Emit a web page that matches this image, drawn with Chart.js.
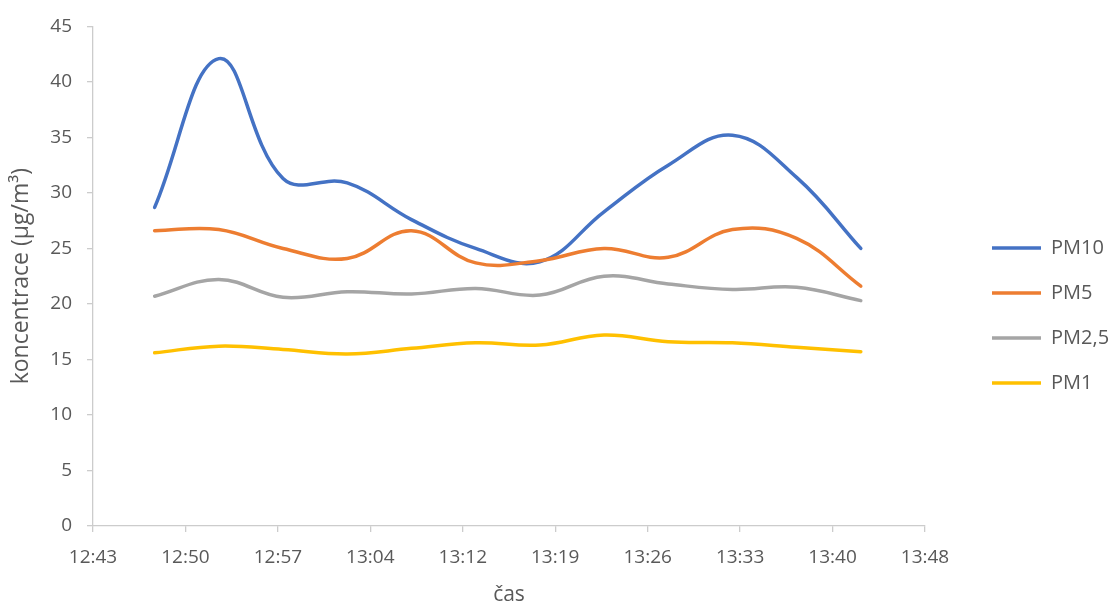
<!DOCTYPE html>
<html>
<head>
<meta charset="utf-8">
<script src="https://cdn.jsdelivr.net/npm/chart.js@4"></script>
<style>
  html, body { margin: 0; padding: 0; background: #fff; }
  #wrap { width: 1116px; height: 608px; }
</style>
</head>
<body>
<div id="wrap"><canvas id="chart"></canvas></div>
<script>
// measurement times (hh:mm)
const times = ['12:48', '12:53', '12:58', '13:03', '13:08', '13:13', '13:18', '13:23', '13:28', '13:33', '13:38', '13:43']

const pm10 = [28.7, 42.1, 31.3, 30.9, 27.6, 25.0, 23.8, 28.3, 32.5, 35.2, 31.4, 25.0]
const pm5 = [26.6, 26.7, 25.0, 24.1, 26.6, 23.7, 23.9, 25.0, 24.2, 26.7, 25.9, 21.6]
const pm25 = [20.7, 22.2, 20.6, 21.1, 20.9, 21.4, 20.8, 22.5, 21.8, 21.3, 21.5, 20.3]
const pm1 = [15.6, 16.2, 15.9, 15.5, 16.0, 16.5, 16.3, 17.2, 16.6, 16.5, 16.1, 15.7]

// x axis labels as excel shows them (major unit 7.2 min from 12:43.2)
const xTickLabels = ['12:43', '12:50', '12:57', '13:04', '13:12', '13:19', '13:26', '13:33', '13:40', '13:48']
const xMin = 12 * 60 + 43.2
const xStep = 7.2

const yTickMax = 45
const yTickStep = 5

const textCol = '#595959'
const axisCol = '#cccccc'
const font = 'Open Sans'

const toMin = (t) => {
    const [h, m] = t.split(':').map(Number)
    return h * 60 + m
}

const series = (label, values, color, order) => ({
    label: label,
    data: times.map((t, i) => ({ x: toMin(t), y: values[i] })),
    borderColor: color,
    backgroundColor: color,
    borderWidth: 3.5,
    borderCapStyle: 'round',
    tension: 0.4,
    pointRadius: 0,
    pointHoverRadius: 0,
    order: order
})

const data = {
    datasets: [
        series('PM10', pm10, '#4472C4', 4),
        series('PM5', pm5, '#ED7D31', 3),
        series('PM2,5', pm25, '#A5A5A5', 2),
        series('PM1', pm1, '#FFC000', 1)
    ]
}

const options = {
    responsive: true,
    maintainAspectRatio: false,
    animation: false,
    layout: { padding: { top: 23, left: 0, right: 0, bottom: 0 } },
    plugins: {
        legend: {
            display: true,
            position: 'right',
            reverse: true,
            maxWidth: 149,
            labels: {
                usePointStyle: true,
                pointStyle: 'line',
                pointStyleWidth: 49,
                padding: 25,
                color: textCol,
                font: { family: font, size: 20 }
            }
        },
        tooltip: { enabled: false }
    },
    scales: {
        x: {
            type: 'linear',
            min: xMin,
            max: xMin + xStep * (xTickLabels.length - 1),
            afterFit: (s) => { s.height = 82 },
            afterBuildTicks: (s) => {
                s.ticks = xTickLabels.map((_, i) => ({ value: xMin + i * xStep }))
            },
            ticks: {
                callback: (v, i) => xTickLabels[i],
                color: textCol,
                padding: 14,
                maxRotation: 0,
                autoSkip: false,
                font: { family: font, size: 19 }
            },
            grid: { drawOnChartArea: false, tickLength: 6, color: axisCol, lineWidth: 1.3 },
            border: { color: axisCol, width: 1.3 },
            title: {
                display: true,
                text: 'čas',
                color: textCol,
                padding: { top: 0, bottom: 0 },
                font: { family: font, size: 21 }
            }
        },
        y: {
            type: 'linear',
            min: 0,
            max: yTickMax,
            afterFit: (s) => { s.width = 93 },
            ticks: {
                stepSize: yTickStep,
                color: textCol,
                padding: 15,
                font: { family: font, size: 19 }
            },
            grid: { drawOnChartArea: false, tickLength: 6, color: axisCol, lineWidth: 1.3 },
            border: { color: axisCol, width: 1.3 },
            title: {
                display: true,
                text: 'koncentrace (µg/m³)',
                color: textCol,
                padding: { top: 8, bottom: 0 },
                font: { family: font, size: 23 }
            }
        },
        // empty spacer between plot and legend
        gap: {
            type: 'linear',
            position: 'right',
            display: true,
            afterFit: (s) => { s.width = 42 },
            ticks: { display: false },
            grid: { display: false },
            border: { display: false }
        }
    }
}

new Chart(document.getElementById('chart'), { type: 'line', data: data, options: options })
</script>
</body>
</html>
